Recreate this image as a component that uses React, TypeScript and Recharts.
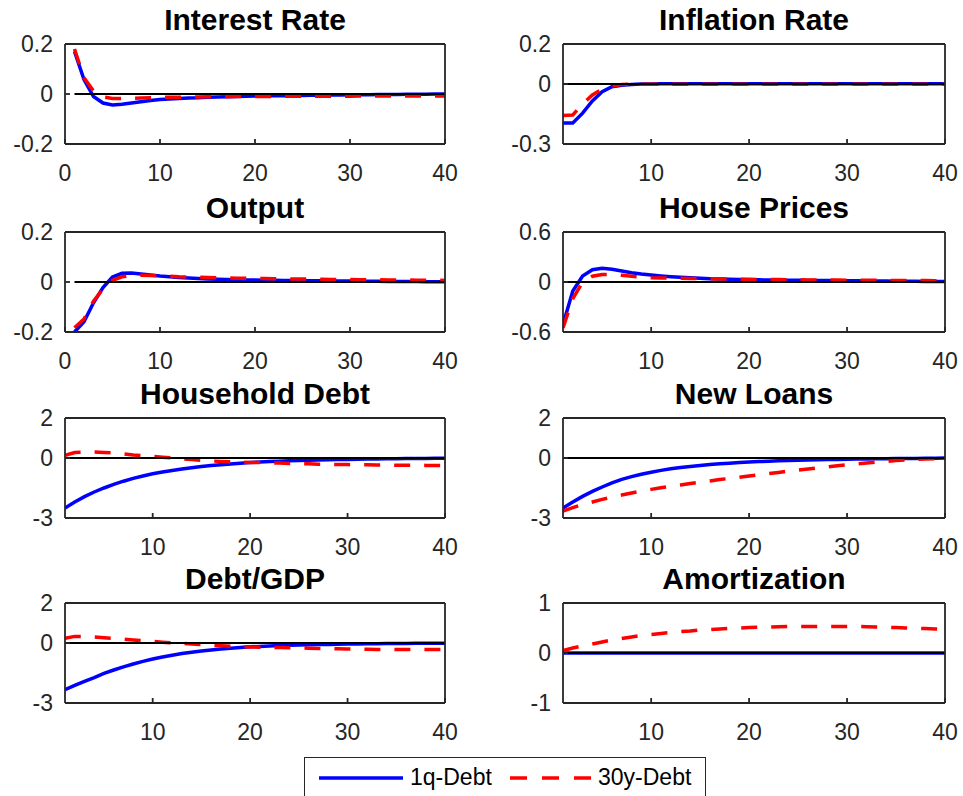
import React from 'react';
import { LineChart, Line, XAxis, YAxis, ReferenceLine } from 'recharts';

// quarters after the shock
const QUARTERS = [1, 2, 3, 4, 5, 6, 7, 8, 9, 10, 11, 12, 13, 14, 15, 16, 17, 18, 19, 20,
  21, 22, 23, 24, 25, 26, 27, 28, 29, 30, 31, 32, 33, 34, 35, 36, 37, 38, 39, 40];

const interestRate1q = [0.17, 0.058, -0.01, -0.036, -0.044, -0.041, -0.036, -0.031, -0.026, -0.022,
  -0.02, -0.018, -0.016, -0.015, -0.013, -0.012, -0.011, -0.01, -0.009, -0.008,
  -0.008, -0.007, -0.007, -0.006, -0.006, -0.005, -0.005, -0.004, -0.004, -0.003,
  -0.003, -0.003, -0.002, -0.002, -0.002, -0.001, -0.001, -0.001, 0, 0];
const interestRate30y = [0.18, 0.065, 0.012, -0.012, -0.018, -0.018, -0.017, -0.016, -0.015, -0.014,
  -0.013, -0.013, -0.012, -0.012, -0.011, -0.011, -0.011, -0.01, -0.01, -0.01,
  -0.01, -0.01, -0.009, -0.009, -0.009, -0.009, -0.009, -0.009, -0.009, -0.009,
  -0.008, -0.008, -0.008, -0.008, -0.008, -0.008, -0.008, -0.008, -0.008, -0.008];

const inflation1q = [-0.195, -0.195, -0.146, -0.085, -0.039, -0.014, -0.006, -0.002, 0, 0,
  0.001, 0.001, 0.001, 0.001, 0.001, 0.001, 0.001, 0.001, 0.001, 0.001,
  0.001, 0.001, 0.001, 0.001, 0.001, 0.001, 0.001, 0.001, 0.001, 0.001,
  0.001, 0.001, 0.001, 0.001, 0.001, 0.001, 0.001, 0.001, 0.001, 0.001];
const inflation30y = [-0.158, -0.155, -0.1, -0.055, -0.026, -0.01, -0.003, 0, -0.001, -0.001,
  -0.001, -0.001, -0.001, -0.001, -0.001, -0.001, -0.001, -0.001, -0.001, -0.001,
  -0.001, -0.001, -0.001, -0.001, -0.001, -0.001, -0.001, -0.001, -0.001, -0.001,
  -0.001, -0.001, -0.001, -0.001, -0.001, -0.001, -0.001, -0.001, -0.001, -0.001];

const output1q = [-0.2, -0.159, -0.083, -0.022, 0.02, 0.035, 0.036, 0.032, 0.028, 0.024,
  0.021, 0.018, 0.016, 0.014, 0.012, 0.011, 0.01, 0.009, 0.008, 0.008,
  0.007, 0.007, 0.006, 0.006, 0.005, 0.005, 0.005, 0.004, 0.004, 0.004,
  0.003, 0.003, 0.003, 0.002, 0.002, 0.002, 0.002, 0.001, 0.001, 0.001];
const output30y = [-0.183, -0.148, -0.077, -0.027, 0.007, 0.021, 0.026, 0.027, 0.026, 0.024,
  0.023, 0.021, 0.02, 0.019, 0.018, 0.017, 0.016, 0.015, 0.015, 0.014,
  0.014, 0.013, 0.013, 0.012, 0.012, 0.011, 0.011, 0.01, 0.01, 0.01,
  0.009, 0.009, 0.009, 0.008, 0.008, 0.008, 0.007, 0.007, 0.007, 0.006];

const housePrices1q = [-0.51, -0.108, 0.072, 0.148, 0.164, 0.152, 0.132, 0.112, 0.096, 0.084,
  0.073, 0.064, 0.057, 0.05, 0.044, 0.04, 0.036, 0.033, 0.03, 0.028,
  0.026, 0.024, 0.022, 0.021, 0.02, 0.019, 0.018, 0.017, 0.016, 0.015,
  0.014, 0.013, 0.012, 0.011, 0.01, 0.009, 0.008, 0.007, 0.006, 0.005];
const housePrices30y = [-0.55, -0.2, 0.0, 0.07, 0.09, 0.09, 0.08, 0.068, 0.058, 0.05,
  0.048, 0.046, 0.044, 0.042, 0.04, 0.038, 0.037, 0.035, 0.034, 0.032,
  0.031, 0.03, 0.029, 0.027, 0.026, 0.025, 0.024, 0.023, 0.023, 0.022,
  0.021, 0.02, 0.02, 0.019, 0.018, 0.018, 0.017, 0.017, 0.016, 0.016];

const householdDebt1q = [-2.5, -2.2, -1.93, -1.7, -1.5, -1.32, -1.16, -1.02, -0.9, -0.79,
  -0.7, -0.62, -0.55, -0.49, -0.43, -0.38, -0.34, -0.3, -0.26, -0.23,
  -0.2, -0.18, -0.16, -0.14, -0.12, -0.11, -0.1, -0.09, -0.08, -0.07,
  -0.06, -0.05, -0.045, -0.04, -0.035, -0.03, -0.025, -0.02, -0.015, -0.01];
const householdDebt30y = [0.13, 0.27, 0.3, 0.3, 0.28, 0.25, 0.21, 0.15, 0.12, 0.08,
  0.04, 0.0, -0.04, -0.08, -0.12, -0.15, -0.17, -0.19, -0.21, -0.22,
  -0.23, -0.24, -0.25, -0.27, -0.28, -0.29, -0.31, -0.32, -0.33, -0.33,
  -0.34, -0.34, -0.35, -0.35, -0.36, -0.36, -0.36, -0.37, -0.37, -0.37];

const newLoans1q = [-2.5, -2.2, -1.92, -1.67, -1.45, -1.24, -1.07, -0.93, -0.81, -0.71,
  -0.62, -0.54, -0.48, -0.42, -0.37, -0.33, -0.29, -0.26, -0.23, -0.2,
  -0.18, -0.16, -0.14, -0.12, -0.11, -0.1, -0.09, -0.08, -0.07, -0.06,
  -0.05, -0.045, -0.04, -0.035, -0.03, -0.025, -0.02, -0.015, -0.01, -0.005];
const newLoans30y = [-2.65, -2.48, -2.33, -2.2, -2.07, -1.96, -1.85, -1.75, -1.66, -1.57,
  -1.49, -1.42, -1.35, -1.28, -1.21, -1.15, -1.08, -1.02, -0.96, -0.9,
  -0.84, -0.78, -0.72, -0.66, -0.6, -0.55, -0.49, -0.44, -0.39, -0.34,
  -0.29, -0.25, -0.21, -0.17, -0.13, -0.1, -0.07, -0.05, -0.03, -0.01];

const debtGdp1q = [-2.33, -2.12, -1.92, -1.73, -1.52, -1.35, -1.19, -1.05, -0.92, -0.8,
  -0.7, -0.61, -0.53, -0.46, -0.4, -0.35, -0.3, -0.26, -0.22, -0.19,
  -0.17, -0.15, -0.13, -0.11, -0.1, -0.09, -0.08, -0.07, -0.06, -0.05,
  -0.045, -0.04, -0.035, -0.03, -0.025, -0.02, -0.018, -0.015, -0.012, -0.01];
const debtGdp30y = [0.23, 0.33, 0.33, 0.3, 0.26, 0.23, 0.19, 0.15, 0.12, 0.08,
  0.04, 0.01, -0.02, -0.05, -0.08, -0.11, -0.14, -0.16, -0.18, -0.2,
  -0.21, -0.22, -0.23, -0.24, -0.25, -0.26, -0.27, -0.28, -0.29, -0.3,
  -0.31, -0.31, -0.32, -0.32, -0.33, -0.33, -0.33, -0.33, -0.33, -0.33];

const amortization1q = [0, 0, 0, 0, 0, 0, 0, 0, 0, 0,
  0, 0, 0, 0, 0, 0, 0, 0, 0, 0,
  0, 0, 0, 0, 0, 0, 0, 0, 0, 0,
  0, 0, 0, 0, 0, 0, 0, 0, 0, 0];
const amortization30y = [0.05, 0.1, 0.14, 0.18, 0.22, 0.26, 0.29, 0.32, 0.35, 0.37,
  0.39, 0.41, 0.43, 0.44, 0.46, 0.47, 0.48, 0.49, 0.5, 0.51,
  0.515, 0.52, 0.525, 0.53, 0.53, 0.53, 0.53, 0.53, 0.53, 0.53,
  0.53, 0.525, 0.52, 0.515, 0.51, 0.5, 0.495, 0.49, 0.48, 0.47];

const FONT = '"Liberation Sans", Arial, Helvetica, sans-serif';
const AXIS_COLOR = '#262626';
const TICK_STYLE = { fontSize: 23, fill: AXIS_COLOR, fontFamily: FONT };
const ROW_TOPS = [44, 232, 418, 603];
const PAD_TOP = 20;

interface PanelProps {
  title: string;
  col: number;
  row: number;
  xDomain: number[];
  xTicks: number[];
  yDomain: number[];
  yTicks: number[];
  short: number[];
  long: number[];
}

function Panel({ title, col, row, xDomain, xTicks, yDomain, yTicks, short, long }: PanelProps) {
  const colX = col === 0 ? 0 : 480;
  const boxLeft = col === 0 ? 65 : 563;
  const boxWidth = col === 0 ? 380 : 382;
  const boxTop = ROW_TOPS[row];
  const yAxisWidth = boxLeft - colX;
  const width = yAxisWidth + boxWidth + 1 + 15;
  const data = QUARTERS.map((q, i) => ({ q, short: short[i], long: long[i] }));

  return (
    <>
      <div
        style={{
          position: 'absolute', left: boxLeft, width: boxWidth, top: boxTop - 39,
          textAlign: 'center', fontFamily: FONT, fontWeight: 'bold', fontSize: 30,
          lineHeight: '30px', color: '#000', whiteSpace: 'nowrap',
        }}
      >
        {title}
      </div>
      <div style={{ position: 'absolute', left: colX, top: boxTop - PAD_TOP }}>
        <LineChart width={width} height={170} data={data} margin={{ top: PAD_TOP - 1, right: 15, bottom: 0, left: 0 }}>
          <XAxis dataKey="q" type="number" domain={xDomain} ticks={xTicks} allowDataOverflow interval={0}
            height={50} tickSize={-5} tickMargin={26} tick={TICK_STYLE} stroke={AXIS_COLOR} strokeWidth={1.8} />
          <XAxis xAxisId="top" orientation="top" dataKey="q" type="number" domain={xDomain} ticks={xTicks}
            allowDataOverflow interval={0} height={1} tickSize={-5} tick={false} stroke={AXIS_COLOR} strokeWidth={1.8} />
          <YAxis type="number" domain={yDomain} ticks={yTicks} allowDataOverflow interval={0}
            width={yAxisWidth} tickSize={-5} tickMargin={17} tick={TICK_STYLE} stroke={AXIS_COLOR} strokeWidth={1.8} />
          <YAxis yAxisId="right" orientation="right" type="number" domain={yDomain} ticks={yTicks}
            allowDataOverflow interval={0} width={1} tickSize={-5} tick={false} stroke={AXIS_COLOR} strokeWidth={1.8} />
          <Line dataKey="short" type="linear" stroke="#0000ff" strokeWidth={3.5} dot={false} isAnimationActive={false} />
          <Line dataKey="long" type="linear" stroke="#ff0000" strokeWidth={3.5} strokeDasharray="16 14"
            dot={false} isAnimationActive={false} />
          <ReferenceLine segment={[{ x: 1, y: 0 }, { x: 40, y: 0 }]} stroke="#000" strokeWidth={1.8} />
        </LineChart>
      </div>
    </>
  );
}

function LegendBox() {
  return (
    <div
      style={{
        position: 'absolute', left: 304, top: 757, width: 400, height: 50,
        border: `1.5px solid ${AXIS_COLOR}`, background: '#fff',
      }}
    >
      <svg style={{ position: 'absolute', left: 14, top: 14 }} width={86} height={12}>
        <line x1={0} y1={6} x2={84} y2={6} stroke="#0000ff" strokeWidth={3.5} />
      </svg>
      <div style={{ position: 'absolute', left: 105, top: 8, fontFamily: FONT, fontSize: 23, lineHeight: '23px', color: '#000' }}>
        1q-Debt
      </div>
      <svg style={{ position: 'absolute', left: 205, top: 14 }} width={82} height={12}>
        <line x1={0} y1={6} x2={81} y2={6} stroke="#ff0000" strokeWidth={3.5} strokeDasharray="17 15" />
      </svg>
      <div style={{ position: 'absolute', left: 293, top: 8, fontFamily: FONT, fontSize: 23, lineHeight: '23px', color: '#000' }}>
        30y-Debt
      </div>
    </div>
  );
}

export default function App() {
  const fromZero = [0, 40];
  const fromOne = [1, 40];
  const ticksZero = [0, 10, 20, 30, 40];
  const ticksOne = [10, 20, 30, 40];

  return (
    <div style={{ position: 'absolute', left: 0, top: 0, width: 963, height: 796, overflow: 'hidden', background: '#fff' }}>
      <Panel title="Interest Rate" col={0} row={0} xDomain={fromZero} xTicks={ticksZero}
        yDomain={[-0.2, 0.2]} yTicks={[-0.2, 0, 0.2]} short={interestRate1q} long={interestRate30y} />
      <Panel title="Inflation Rate" col={1} row={0} xDomain={fromOne} xTicks={ticksOne}
        yDomain={[-0.3, 0.2]} yTicks={[-0.3, 0, 0.2]} short={inflation1q} long={inflation30y} />
      <Panel title="Output" col={0} row={1} xDomain={fromZero} xTicks={ticksZero}
        yDomain={[-0.2, 0.2]} yTicks={[-0.2, 0, 0.2]} short={output1q} long={output30y} />
      <Panel title="House Prices" col={1} row={1} xDomain={fromOne} xTicks={ticksOne}
        yDomain={[-0.6, 0.6]} yTicks={[-0.6, 0, 0.6]} short={housePrices1q} long={housePrices30y} />
      <Panel title="Household Debt" col={0} row={2} xDomain={fromOne} xTicks={ticksOne}
        yDomain={[-3, 2]} yTicks={[-3, 0, 2]} short={householdDebt1q} long={householdDebt30y} />
      <Panel title="New Loans" col={1} row={2} xDomain={fromOne} xTicks={ticksOne}
        yDomain={[-3, 2]} yTicks={[-3, 0, 2]} short={newLoans1q} long={newLoans30y} />
      <Panel title="Debt/GDP" col={0} row={3} xDomain={fromOne} xTicks={ticksOne}
        yDomain={[-3, 2]} yTicks={[-3, 0, 2]} short={debtGdp1q} long={debtGdp30y} />
      <Panel title="Amortization" col={1} row={3} xDomain={fromOne} xTicks={ticksOne}
        yDomain={[-1, 1]} yTicks={[-1, 0, 1]} short={amortization1q} long={amortization30y} />
      <LegendBox />
    </div>
  );
}
